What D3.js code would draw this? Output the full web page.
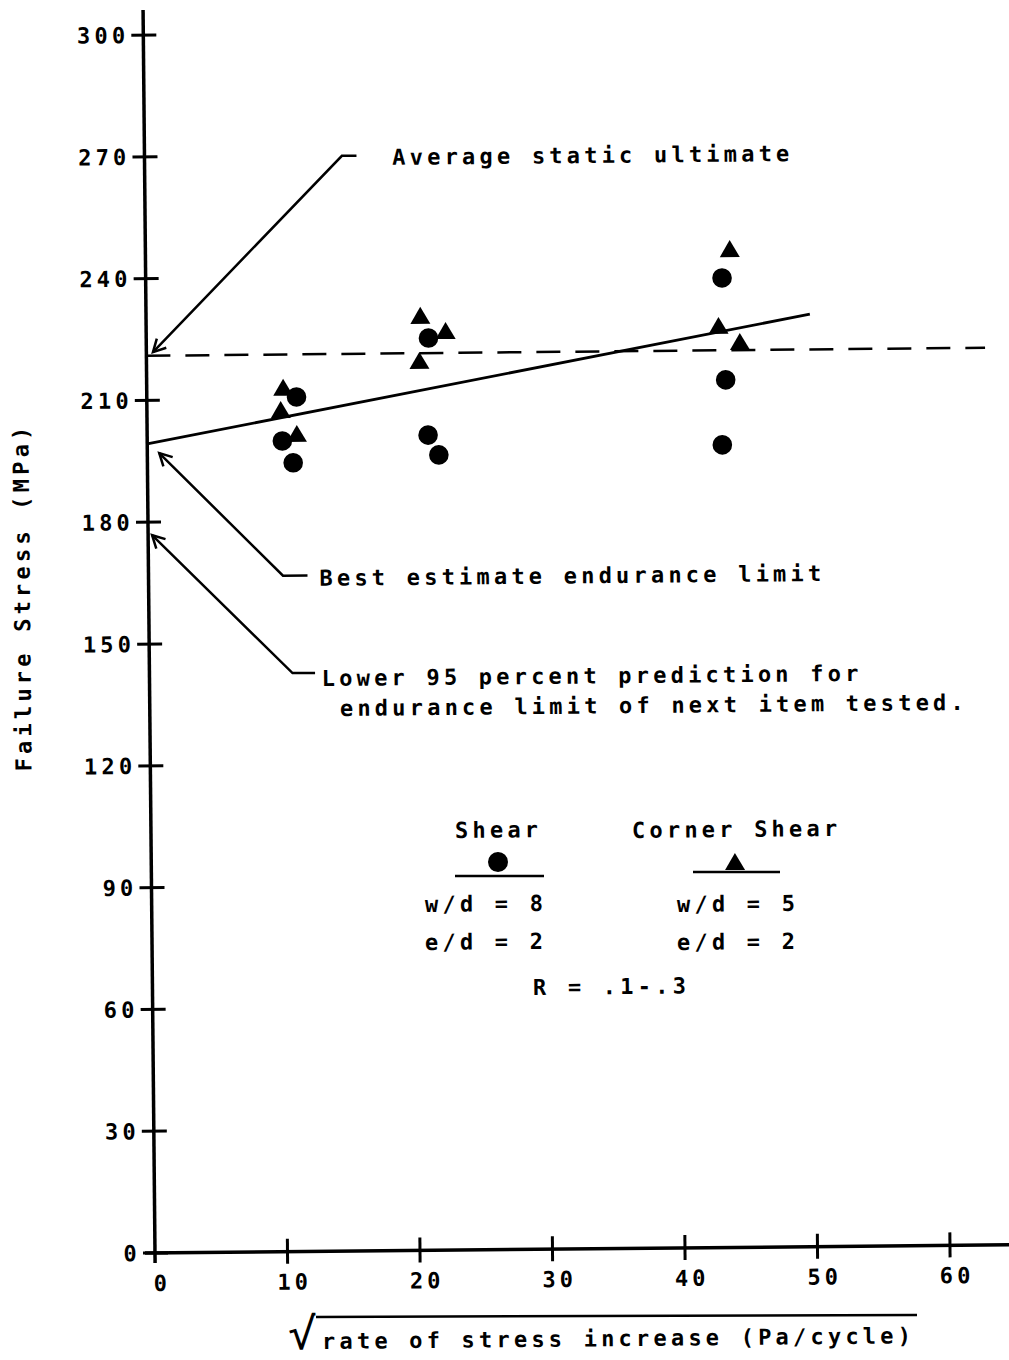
<!DOCTYPE html>
<html><head><meta charset="utf-8">
<script src="https://cdn.jsdelivr.net/npm/d3@7"></script>
<style>
body{margin:0;background:#fff}
svg text{font-family:"DejaVu Sans Mono",monospace;font-size:22px;font-weight:bold;letter-spacing:4.2px;fill:#000}
</style>
</head><body>
<svg id="chart" width="1009" height="1360"></svg>
<script>
// ---------------- data ----------------
const xTicks = [0, 10, 20, 30, 40, 50, 60];
const yTicks = [0, 30, 60, 90, 120, 150, 180, 210, 240, 270, 300];

// Shear (circles)
const shearX = [10.2, 11.3, 11.0, 21.2, 21.3, 22.0, 43.5, 43.7, 43.4];
const shearY = [199.7, 210.5, 194.3, 200.8, 224.7, 195.9, 238.8, 213.7, 197.7];
// Corner shear (triangles)
const cornerX = [10.3, 10.1, 11.3, 20.7, 20.6, 22.6, 44.1, 43.2, 44.8];
const cornerY = [212.8, 207.3, 201.4, 230.2, 219.1, 226.4, 245.9, 227.0, 223.0];

// best-fit line and average static ultimate
const fitX = [0, 50.1];
const fitY = [199.3, 229.7];
const staticX = [0, 63.3];
const staticY = [221, 221];

// annotations (tip, elbow, end of leader, label) in data units
const annLabels = ["Average static ultimate", "Best estimate endurance limit",
                   "Lower 95 percent prediction for"];
const annSecond = "endurance limit of next item tested.";
const annTip   = [[0.5, 221.9], [0.9, 197.0], [0.3, 176.8]];
const annElbow = [[14.9, 269.8], [10.15, 166.5], [10.8, 142.5]];
const annEnd   = [[16.0, 269.8], [12.0, 166.5], [12.5, 142.5]];
const annText  = [[18.7, 269.4], [12.9, 165.9], [13.0, 141.2]];
const annText2 = [14.35, 133.8];

const legendNames = ["Shear", "Corner Shear"];
const legendWD = ["w/d = 8", "w/d = 5"];
const legendED = ["e/d = 2", "e/d = 2"];
const legendR = "R = .1-.3";
const yTitle = "Failure Stress (MPa)";
const xTitle = "rate of stress increase (Pa/cycle)";

// ---------------- drawing ----------------
const svg = d3.select("#chart");
const ox = 155, oy = 1253, ang = 0.55;
const s = Math.sin(ang * Math.PI / 180), c = Math.cos(ang * Math.PI / 180);
// convert a reference-page position into the (unrotated) drawing frame
function unrot(px, py) {
  const dx = px - ox, dy = py - oy;
  return [ox + dx * c - dy * s, oy + dx * s + dy * c];
}
const g = svg.append("g").attr("transform", `rotate(${-ang},${ox},${oy})`);

const x = d3.scaleLinear().domain([0, 60]).range([155, 950]);
const y = d3.scaleLinear().domain([0, 300]).range([1253, 35]);

const K = "#000";
// axes lines
g.append("line").attr("x1", x(0)).attr("x2", x(0)).attr("y1", 10).attr("y2", 1263)
  .attr("stroke", K).attr("stroke-width", 3.5);
g.append("line").attr("x1", 145).attr("x2", 1030).attr("y1", y(0)).attr("y2", y(0))
  .attr("stroke", K).attr("stroke-width", 3.5);

// y ticks
const yAx = g.append("g");
yTicks.forEach(t => {
  yAx.append("line").attr("x1", x(0) - 12).attr("x2", x(0) + 13)
    .attr("y1", y(t)).attr("y2", y(t)).attr("stroke", K).attr("stroke-width", 3);
  yAx.append("text").attr("x", x(0) - 14).attr("y", y(t)).attr("dy", "0.36em")
    .attr("text-anchor", "end").text(t);
});
// x ticks
xTicks.forEach(t => {
  if (t > 0) g.append("line").attr("x1", x(t)).attr("x2", x(t))
    .attr("y1", y(0) - 13).attr("y2", y(0) + 12).attr("stroke", K).attr("stroke-width", 3);
  g.append("text").attr("x", x(t) + 7).attr("y", y(0) + 30).attr("dy", "0.36em")
    .attr("text-anchor", "middle").text(t);
});

// dashed static ultimate
const line = d3.line().x(d => x(d[0])).y(d => y(d[1]));
g.append("path").datum(d3.zip(staticX, staticY)).attr("d", line)
  .attr("fill", "none").attr("stroke", K).attr("stroke-width", 2.5)
  .attr("stroke-dasharray", "24,15");
// fit line
g.append("path").datum(d3.zip(fitX, fitY)).attr("d", line)
  .attr("fill", "none").attr("stroke", K).attr("stroke-width", 2.8);

// points
g.append("g").selectAll("circle").data(d3.zip(shearX, shearY)).join("circle")
  .attr("cx", d => x(d[0])).attr("cy", d => y(d[1])).attr("r", 9.8).attr("fill", K);
const tri = "M0,-9 L10,8 L-10,8 Z";
g.append("g").selectAll("path").data(d3.zip(cornerX, cornerY)).join("path")
  .attr("transform", d => `translate(${x(d[0])},${y(d[1])})`).attr("d", tri).attr("fill", K);

// annotations
function arrowHead(tip, from, len, a) {
  const vx = from[0] - tip[0], vy = from[1] - tip[1];
  const L = Math.hypot(vx, vy), ux = vx / L, uy = vy / L;
  const r = a * Math.PI / 180;
  const p = sgn => [tip[0] + len * (ux * Math.cos(sgn * r) - uy * Math.sin(sgn * r)),
                    tip[1] + len * (ux * Math.sin(sgn * r) + uy * Math.cos(sgn * r))];
  const p1 = p(1), p2 = p(-1);
  return `M${p1[0]},${p1[1]} L${tip[0]},${tip[1]} L${p2[0]},${p2[1]}`;
}
annLabels.forEach((lab, i) => {
  const tip = [x(annTip[i][0]), y(annTip[i][1])];
  const el = [x(annElbow[i][0]), y(annElbow[i][1])];
  const en = [x(annEnd[i][0]), y(annEnd[i][1])];
  g.append("path").attr("d", `M${en[0]},${en[1]} L${el[0]},${el[1]} L${tip[0]},${tip[1]}`)
    .attr("fill", "none").attr("stroke", K).attr("stroke-width", 2.5);
  g.append("path").attr("d", arrowHead(tip, el, 14, 28))
    .attr("fill", "none").attr("stroke", K).attr("stroke-width", 2.5);
  g.append("text").attr("x", x(annText[i][0])).attr("y", y(annText[i][1]))
    .attr("dy", "0.36em").text(lab);
});
g.append("text").attr("x", x(annText2[0])).attr("y", y(annText2[1]))
  .attr("dy", "0.36em").text(annSecond);

// legend (layout in reference page pixels)
function txt(px, py, str, anchor) {
  const p = unrot(px, py);
  g.append("text").attr("x", p[0]).attr("y", p[1]).attr("dy", "0.36em")
    .attr("text-anchor", anchor || "start").text(str);
}
function seg(x1, y1, x2, y2, w) {
  const a = unrot(x1, y1), b = unrot(x2, y2);
  g.append("line").attr("x1", a[0]).attr("y1", a[1]).attr("x2", b[0]).attr("y2", b[1])
    .attr("stroke", K).attr("stroke-width", w);
}
txt(455, 830, legendNames[0]);
txt(632, 830, legendNames[1]);
const lc = unrot(498, 862);
g.append("circle").attr("cx", lc[0]).attr("cy", lc[1]).attr("r", 10).attr("fill", K);
seg(455, 876, 544, 876, 2.5);
const lt = unrot(735, 862);
g.append("path").attr("transform", `translate(${lt[0]},${lt[1]})`).attr("d", tri).attr("fill", K);
seg(693, 872, 780, 872, 2.5);
txt(425, 904, legendWD[0]);
txt(425, 942, legendED[0]);
txt(677, 904, legendWD[1]);
txt(677, 942, legendED[1]);
txt(533, 987, legendR);

// y title
const yt = unrot(22, 597);
g.append("text").attr("transform", `translate(${yt[0]},${yt[1]}) rotate(-90)`)
  .attr("text-anchor", "middle").attr("dy", "0.36em").text(yTitle);

// x title with radical sign
const xr = unrot(288, 1349);
g.append("text").attr("transform", `translate(${xr[0]},${xr[1]}) scale(1.6,1.45)`)
  .style("font-size", "30px").style("font-weight", "normal").style("letter-spacing", "0px")
  .text("√");
seg(316, 1317, 917, 1315, 2.5);
txt(322, 1341, xTitle);
</script>
</body></html>
